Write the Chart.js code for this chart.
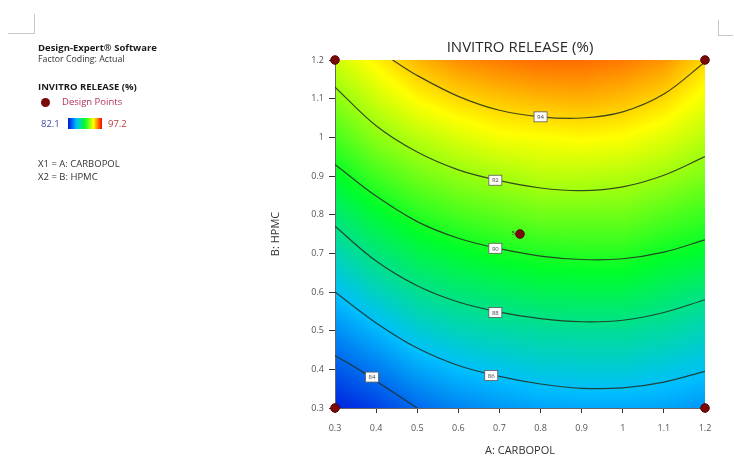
<!DOCTYPE html>
<html>
<head>
<meta charset="utf-8">
<script src="https://cdn.jsdelivr.net/npm/chart.js@4.4.1/dist/chart.umd.min.js"></script>
<style>
  html, body { margin: 0; padding: 0; background: #fff; }
  #wrap { position: relative; width: 734px; height: 457px; font-family: "Open Sans", sans-serif; }
  #plot { position: absolute; left: 0; top: 0; }
  .side { position: absolute; white-space: nowrap; line-height: 12px; font-size: 9.5px; color: #333; }
  .bold { font-weight: bold; color: #1a1a1a; }
  .corner { position: absolute; border-color: #c8c8c8; border-style: solid; border-width: 0; }
</style>
</head>
<body>
<div id="wrap">
  <canvas id="plot" width="734" height="457"></canvas>

  <div class="corner" style="left:8px; top:14px; width:26px; height:19px; border-right-width:1px; border-bottom-width:1px;"></div>
  <div class="corner" style="left:718px; top:20px; width:14px; height:15px; border-left-width:1px; border-bottom-width:1px;"></div>

  <div class="side bold" style="left:38px; top:42px;">Design-Expert® Software</div>
  <div class="side" style="left:38px; top:53px; font-size:8.8px;">Factor Coding: Actual</div>
  <div class="side bold" style="left:38px; top:81px;">INVITRO RELEASE (%)</div>
  <div class="side" style="left:41px; top:98px; width:9px; height:9px; border-radius:50%; background:#7a0a0a;"></div>
  <div class="side" style="left:62px; top:96px; color:#b0305a;">Design Points</div>
  <div class="side" style="left:41px; top:118px; color:#3a4aa8;">82.1</div>
  <div class="side" style="left:68px; top:118px; width:34px; height:11px; background:linear-gradient(to right, #0014dc, #00beff, #00ff28, #ffff00, #ff0000);"></div>
  <div class="side" style="left:108px; top:118px; color:#c03838;">97.2</div>
  <div class="side" style="left:38px; top:158px;">X1 = A: CARBOPOL</div>
  <div class="side" style="left:38px; top:171px;">X2 = B: HPMC</div>
</div>

<script>
// Factor grid (A: CARBOPOL across, B: HPMC up) and predicted release on it
const carbopol = [0.3, 0.4, 0.5, 0.6, 0.7, 0.8, 0.9, 1.0, 1.1, 1.2];
const hpmc = [0.3, 0.4, 0.5, 0.6, 0.7, 0.8, 0.9, 1.0, 1.1, 1.2];
const release = [
  [82.4, 83.1, 84.0, 84.6, 85.0, 85.3, 85.4, 85.4, 85.3, 85.0],
  [83.6, 84.4, 85.3, 85.9, 86.2, 86.5, 86.6, 86.6, 86.4, 86.1],
  [84.8, 85.7, 86.6, 87.1, 87.4, 87.6, 87.7, 87.7, 87.5, 87.1],
  [86.0, 87.0, 87.8, 88.3, 88.6, 88.9, 89.0, 89.0, 88.6, 88.2],
  [87.2, 88.2, 89.0, 89.5, 89.9, 90.1, 90.2, 90.2, 89.8, 89.5],
  [88.4, 89.4, 90.2, 90.7, 91.0, 91.3, 91.3, 91.3, 90.9, 90.5],
  [89.6, 90.6, 91.3, 91.8, 92.1, 92.4, 92.4, 92.3, 92.0, 91.5],
  [90.7, 91.7, 92.4, 92.9, 93.3, 93.4, 93.5, 93.4, 93.0, 92.4],
  [91.7, 92.7, 93.5, 94.0, 94.3, 94.5, 94.6, 94.4, 94.0, 93.2],
  [92.7, 93.6, 94.5, 95.1, 95.4, 95.6, 95.6, 95.4, 95.0, 94.0]
];
const releaseMin = 82.1;
const releaseMax = 97.2;

// Contour lines, [A, B] pairs per level
const contourLevels = [84, 86, 88, 90, 92, 94];
const contour84 = [[0.3, 0.435], [0.35, 0.405], [0.4, 0.37], [0.45, 0.335], [0.5, 0.3]];
const contour86 = [[0.3, 0.6], [0.4, 0.52], [0.5, 0.455], [0.6, 0.41], [0.7, 0.382], [0.8, 0.362], [0.9, 0.351], [1.0, 0.352], [1.1, 0.367], [1.2, 0.395]];
const contour88 = [[0.3, 0.77], [0.4, 0.68], [0.5, 0.616], [0.6, 0.574], [0.7, 0.548], [0.8, 0.531], [0.9, 0.523], [1.0, 0.527], [1.1, 0.547], [1.2, 0.58]];
const contour90 = [[0.3, 0.93], [0.4, 0.848], [0.5, 0.782], [0.6, 0.739], [0.7, 0.712], [0.8, 0.693], [0.9, 0.684], [1.0, 0.686], [1.1, 0.703], [1.2, 0.735]];
const contour92 = [[0.3, 1.13], [0.4, 1.03], [0.5, 0.962], [0.6, 0.916], [0.7, 0.888], [0.8, 0.869], [0.9, 0.862], [1.0, 0.872], [1.1, 0.902], [1.2, 0.95]];
const contour94 = [[0.44, 1.2], [0.5, 1.16], [0.6, 1.106], [0.7, 1.07], [0.8, 1.053], [0.9, 1.05], [1.0, 1.066], [1.1, 1.112], [1.2, 1.195]];
const contourLines = [contour84, contour86, contour88, contour90, contour92, contour94];
// where each level's tag sits
const contourTagSpots = [[0.39, 0.38], [0.68, 0.384], [0.69, 0.547], [0.69, 0.713], [0.69, 0.889], [0.8, 1.053]];

// Design points (factorial corners + centre point run 5 times)
const designA = [0.3, 0.3, 1.2, 1.2, 0.75];
const designB = [0.3, 1.2, 0.3, 1.2, 0.75];
const designRuns = ['', '', '', '', '5'];

const colorStops = [
  [0.0, [0, 20, 220]],
  [0.25, [0, 190, 255]],
  [0.5, [0, 255, 40]],
  [0.75, [255, 255, 0]],
  [1.0, [255, 0, 0]]
];

function colorFor(v) {
  let t = (v - releaseMin) / (releaseMax - releaseMin);
  t = Math.max(0, Math.min(1, t));
  for (let k = 0; k < colorStops.length - 1; k++) {
    const [t0, c0] = colorStops[k];
    const [t1, c1] = colorStops[k + 1];
    if (t <= t1) {
      const f = (t - t0) / (t1 - t0);
      return [0, 1, 2].map(n => Math.round(c0[n] + (c1[n] - c0[n]) * f));
    }
  }
  return colorStops[colorStops.length - 1][1];
}

function locate(arr, v) {
  if (v <= arr[0]) return [0, 0];
  if (v >= arr[arr.length - 1]) return [arr.length - 2, 1];
  let k = 0;
  while (v > arr[k + 1]) k++;
  return [k, (v - arr[k]) / (arr[k + 1] - arr[k])];
}

// shaded response surface behind everything
const surfacePlugin = {
  id: 'surface',
  beforeDraw(chart) {
    const { ctx, chartArea: a, scales: { x, y } } = chart;
    const left = Math.round(a.left), top = Math.round(a.top);
    const w = Math.round(a.right) - left, h = Math.round(a.bottom) - top;
    const img = ctx.createImageData(w, h);
    for (let py = 0; py < h; py++) {
      const [j, fy] = locate(hpmc, y.getValueForPixel(top + py + 0.5));
      for (let px = 0; px < w; px++) {
        const [i, fx] = locate(carbopol, x.getValueForPixel(left + px + 0.5));
        const v = release[j][i] * (1 - fx) * (1 - fy) + release[j][i + 1] * fx * (1 - fy) +
                  release[j + 1][i] * (1 - fx) * fy + release[j + 1][i + 1] * fx * fy;
        const c = colorFor(v);
        const p = (py * w + px) * 4;
        img.data[p] = c[0];
        img.data[p + 1] = c[1];
        img.data[p + 2] = c[2];
        img.data[p + 3] = 255;
      }
    }
    ctx.putImageData(img, left, top);
  }
};

// small boxed level tags on the contours, plus the centre point run count
const tagPlugin = {
  id: 'tags',
  afterDatasetsDraw(chart) {
    const { ctx, scales: { x, y } } = chart;
    ctx.save();
    ctx.font = '6px "Open Sans", sans-serif';
    ctx.textAlign = 'center';
    ctx.textBaseline = 'middle';
    contourTagSpots.forEach((s, k) => {
      const cx = x.getPixelForValue(s[0]);
      const cy = y.getPixelForValue(s[1]);
      ctx.fillStyle = '#fdfdfd';
      ctx.fillRect(cx - 6.5, cy - 5, 13, 10);
      ctx.strokeStyle = '#5a5a5a';
      ctx.lineWidth = 0.8;
      ctx.strokeRect(cx - 6.5, cy - 5, 13, 10);
      ctx.fillStyle = '#444';
      ctx.fillText(String(contourLevels[k]), cx, cy + 0.5);
    });
    ctx.textAlign = 'right';
    ctx.fillStyle = '#333';
    designRuns.forEach((r, k) => {
      if (!r) return;
      ctx.fillText(r, x.getPixelForValue(designA[k]) - 5, y.getPixelForValue(designB[k]) - 1);
    });
    ctx.restore();
  }
};

const tickLabel = v => String(Number(v.toFixed(1)));

const datasets = [{
  label: 'Design Points',
  data: designA.map((a, k) => ({ x: a, y: designB[k] })),
  pointRadius: 4.3,
  pointBackgroundColor: '#7a0a0a',
  pointBorderColor: '#5a0000',
  pointBorderWidth: 1,
  showLine: false,
  clip: false
}];
contourLines.forEach((line, k) => {
  datasets.push({
    label: 'R ' + contourLevels[k],
    data: line.map(p => ({ x: p[0], y: p[1] })),
    showLine: true,
    tension: 0.35,
    pointRadius: 0,
    borderColor: 'rgba(35, 45, 30, 0.85)',
    borderWidth: 1.2
  });
});

new Chart(document.getElementById('plot'), {
  type: 'scatter',
  data: { datasets },
  options: {
    responsive: false,
    animation: false,
    events: [],
    layout: { padding: { left: 263, right: 29, top: 0, bottom: 0 } },
    plugins: {
      legend: { display: false },
      tooltip: { enabled: false },
      title: {
        display: true,
        text: 'INVITRO RELEASE (%)',
        fullSize: false,
        color: '#2a2a2a',
        font: { family: '"Open Sans", sans-serif', size: 15, weight: 'normal' },
        padding: { top: 39, bottom: 3 }
      }
    },
    scales: {
      x: {
        type: 'linear',
        min: 0.3,
        max: 1.2,
        afterFit(s) { s.height = 49; },
        ticks: { stepSize: 0.1, callback: tickLabel, color: '#555', padding: 10,
                 font: { family: '"Open Sans", sans-serif', size: 9 } },
        grid: { drawOnChartArea: false, tickLength: 5, color: '#333' },
        border: { color: '#666' },
        title: { display: true, text: 'A: CARBOPOL', color: '#333',
                 font: { family: '"Open Sans", sans-serif', size: 11 }, padding: { top: 4, bottom: 0 } }
      },
      y: {
        type: 'linear',
        min: 0.3,
        max: 1.2,
        afterFit(s) { s.width = 72; },
        ticks: { stepSize: 0.1, callback: tickLabel, color: '#555', padding: 5,
                 font: { family: '"Open Sans", sans-serif', size: 9 } },
        grid: { drawOnChartArea: false, tickLength: 6, color: '#333' },
        border: { color: '#666' },
        title: { display: true, text: 'B: HPMC', color: '#333',
                 font: { family: '"Open Sans", sans-serif', size: 11 }, padding: { top: 6, bottom: 0 } }
      }
    }
  },
  plugins: [surfacePlugin, tagPlugin]
});
</script>
</body>
</html>
